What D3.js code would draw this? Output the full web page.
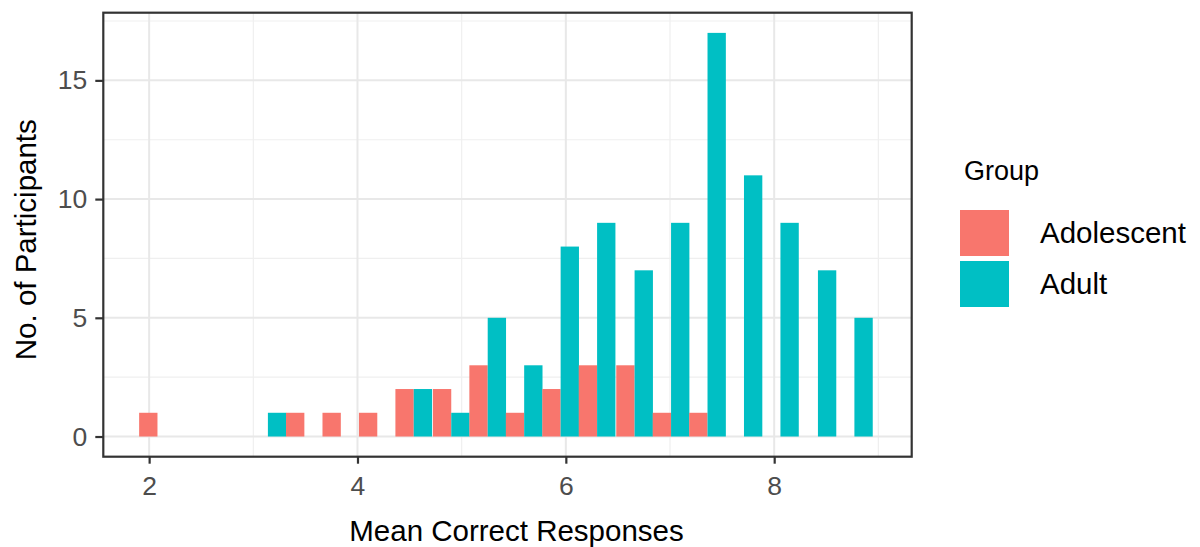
<!DOCTYPE html>
<html>
<head>
<meta charset="utf-8">
<script src="https://cdn.jsdelivr.net/npm/d3@7"></script>
<style>
  html, body { margin: 0; padding: 0; background: #fff; }
  svg { display: block; font-family: "Liberation Sans", Arial, sans-serif; }
</style>
</head>
<body>
<svg id="chart" width="1200" height="547"></svg>
<script>
// Histogram bins (centres) of mean correct responses, dodged by group
const binCenters = [2.08, 2.43, 2.78, 3.14, 3.49, 3.84, 4.19, 4.54, 4.90, 5.25,
                    5.60, 5.95, 6.30, 6.66, 7.01, 7.36, 7.71, 8.06, 8.42, 8.77];
const binWidth = 0.352;
const groups = ["Adolescent", "Adult"];
const adolescentCounts = [1, 0, 0, 0, 1, 1, 1, 2, 2, 3, 1, 2, 3, 3, 1, 1, 0, 0, 0, 0];
const adultCounts      = [0, 0, 0, 1, 0, 0, 0, 2, 1, 5, 3, 8, 9, 7, 9, 17, 11, 9, 7, 5];
const xTicks = [2, 4, 6, 8];
const yTicks = [0, 5, 10, 15];
const xMinor = [3, 5, 7, 9];
const yMinor = [2.5, 7.5, 12.5, 17.5];
const colors = ["#F8766D", "#00BFC4"];

const svg = d3.select("#chart");
const panel = { left: 103.3, right: 911.7, top: 12.7, bottom: 456.7 };

const x = d3.scaleLinear().domain([1.56, 9.32]).range([panel.left, panel.right]);
const y = d3.scaleLinear().domain([-0.85, 17.85]).range([panel.bottom, panel.top]);
const color = d3.scaleOrdinal().domain(groups).range(colors);

// panel background
svg.append("rect")
  .attr("x", panel.left).attr("y", panel.top)
  .attr("width", panel.right - panel.left).attr("height", panel.bottom - panel.top)
  .attr("fill", "#fff");

// grid lines
const grid = svg.append("g");
grid.selectAll(".xminor").data(xMinor).enter().append("line")
  .attr("x1", d => x(d)).attr("x2", d => x(d))
  .attr("y1", panel.top).attr("y2", panel.bottom)
  .attr("stroke", "#EFEFEF").attr("stroke-width", 1.2);
grid.selectAll(".yminor").data(yMinor).enter().append("line")
  .attr("x1", panel.left).attr("x2", panel.right)
  .attr("y1", d => y(d)).attr("y2", d => y(d))
  .attr("stroke", "#EFEFEF").attr("stroke-width", 1.2);
grid.selectAll(".xmajor").data(xTicks).enter().append("line")
  .attr("x1", d => x(d)).attr("x2", d => x(d))
  .attr("y1", panel.top).attr("y2", panel.bottom)
  .attr("stroke", "#E8E8E8").attr("stroke-width", 2);
grid.selectAll(".ymajor").data(yTicks).enter().append("line")
  .attr("x1", panel.left).attr("x2", panel.right)
  .attr("y1", d => y(d)).attr("y2", d => y(d))
  .attr("stroke", "#E8E8E8").attr("stroke-width", 2);

// bars
const rows = [];
binCenters.forEach((c, i) => {
  rows.push({ group: "Adolescent", x0: c - binWidth / 2, x1: c, n: adolescentCounts[i] });
  rows.push({ group: "Adult", x0: c, x1: c + binWidth / 2, n: adultCounts[i] });
});
svg.append("g").selectAll("rect").data(rows.filter(d => d.n > 0)).enter().append("rect")
  .attr("x", d => x(d.x0))
  .attr("width", d => x(d.x1) - x(d.x0))
  .attr("y", d => y(d.n))
  .attr("height", d => y(0) - y(d.n))
  .attr("fill", d => color(d.group));

// panel border
svg.append("rect")
  .attr("x", panel.left).attr("y", panel.top)
  .attr("width", panel.right - panel.left).attr("height", panel.bottom - panel.top)
  .attr("fill", "none").attr("stroke", "#333").attr("stroke-width", 2.2);

// axes
const xAxis = svg.append("g")
  .attr("transform", `translate(0,${panel.bottom})`)
  .call(d3.axisBottom(x).tickValues(xTicks).tickSize(7).tickPadding(12).tickFormat(d3.format("d")));
const yAxis = svg.append("g")
  .attr("transform", `translate(${panel.left},0)`)
  .call(d3.axisLeft(y).tickValues(yTicks).tickSize(8).tickPadding(8).tickFormat(d3.format("d")));
[xAxis, yAxis].forEach(a => {
  a.select(".domain").remove();
  a.selectAll(".tick line").attr("stroke", "#333").attr("stroke-width", 2.2);
  a.selectAll(".tick text").attr("fill", "#4D4D4D")
    .style("font-size", "26.5px").style("font-family", "'Liberation Sans', Arial, sans-serif");
});

// axis titles
svg.append("text")
  .attr("x", (panel.left + panel.right) / 2 + 9).attr("y", 541)
  .attr("text-anchor", "middle").attr("fill", "#000")
  .style("font-size", "29.5px")
  .text("Mean Correct Responses");
svg.append("text")
  .attr("transform", `translate(36,${(panel.top + panel.bottom) / 2 + 5}) rotate(-90)`)
  .attr("text-anchor", "middle").attr("fill", "#000")
  .style("font-size", "29.5px")
  .text("No. of Participants");

// legend
const legend = svg.append("g").attr("transform", "translate(960,0)");
legend.append("text")
  .attr("x", 4).attr("y", 180)
  .attr("fill", "#000").style("font-size", "27px")
  .text("Group");
const items = legend.selectAll(".item").data(groups).enter().append("g")
  .attr("transform", (d, i) => `translate(0,${210 + i * 51})`);
items.append("rect")
  .attr("width", 49).attr("height", 46)
  .attr("fill", d => color(d));
items.append("text")
  .attr("x", 80).attr("y", 23).attr("dy", "0.35em")
  .attr("fill", "#000").style("font-size", "29.5px")
  .text(d => d);
</script>
</body>
</html>
